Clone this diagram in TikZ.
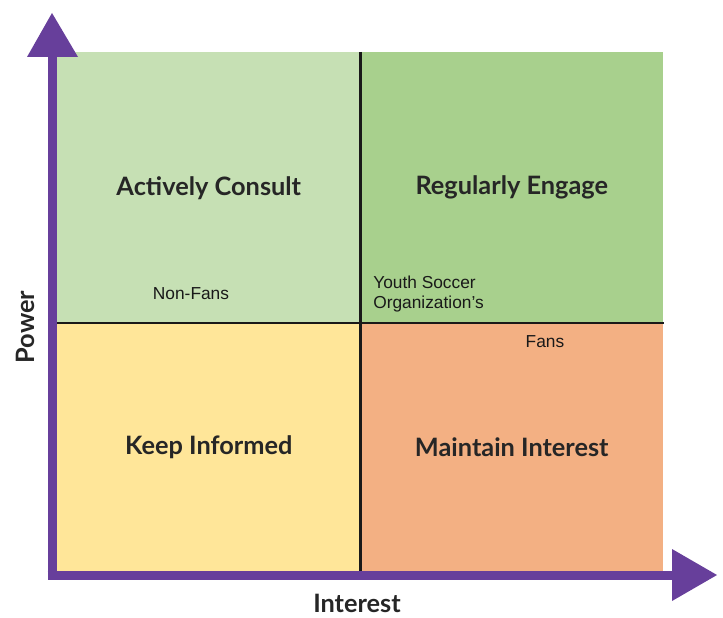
\documentclass[tikz,border=0pt]{standalone}
\usepackage{fontspec}
\setmainfont{Lato}
\newfontfamily\labelfont{Liberation Sans}
\begin{document}
\begin{tikzpicture}[x=0.75pt,y=-0.75pt,
  quad/.style={draw=none,inner sep=0pt,minimum width=303*0.75pt,
    minimum height=#1*0.75pt,font=\bfseries\fontsize{19}{22}\selectfont,text=black!85},
  note/.style={font=\labelfont\fontsize{13}{15}\selectfont,text=black!90,inner sep=0pt},
  axistitle/.style={font=\bfseries\fontsize{19}{22}\selectfont,text=black!85,inner sep=0pt},
  axisline/.style={draw=axispurple,line width=9*0.75pt},
  divider/.style={draw=black!90,line width=2.5*0.75pt}]
\definecolor{axispurple}{HTML}{673F9B}
\definecolor{consult}{HTML}{C6E0B4}
\definecolor{engage}{HTML}{A8D08D}
\definecolor{informed}{HTML}{FFE699}
\definecolor{interest}{HTML}{F3B083}
\useasboundingbox (0,0) rectangle (723,617);
% quadrants
\node[quad=271,fill=consult,anchor=north west] (ac) at (57,52) {Actively Consult};
\node[quad=271,fill=engage,anchor=north west] (re) at (360,52) {Regularly Engage};
\node[quad=248,fill=informed,anchor=north west] (ki) at (57,323) {Keep Informed};
\node[quad=248,fill=interest,anchor=north west] (mi) at (360,323) {Maintain Interest};
% dividers
\draw[divider] (ac.north east) -- (ki.south east);
\draw[divider] (ki.north west) -- (mi.north east);
% stakeholder notes
\node[note] (nf) at (191,294) {Non-Fans};
\node[note,anchor=west,align=left] (ys) at (373,294) {Youth Soccer\\Organization’s};
\node[note] (fa) at (545,342) {Fans};
% axes
\coordinate (origin) at (52,575);
\coordinate (ytop) at (52,57);
\coordinate (xend) at (673,575);
\draw[axisline] (52,579.5) -- (ytop);
\draw[axisline] (47.5,575) -- (xend);
\fill[axispurple] (27,57) -- (52,13) -- (78,57) -- cycle;
\fill[axispurple] (672,549) -- (717,575) -- (672,601) -- cycle;
\node[axistitle,rotate=90] (pw) at (25,327) {Power};
\node[axistitle] (in) at (357,603) {Interest};
\end{tikzpicture}
\end{document}
